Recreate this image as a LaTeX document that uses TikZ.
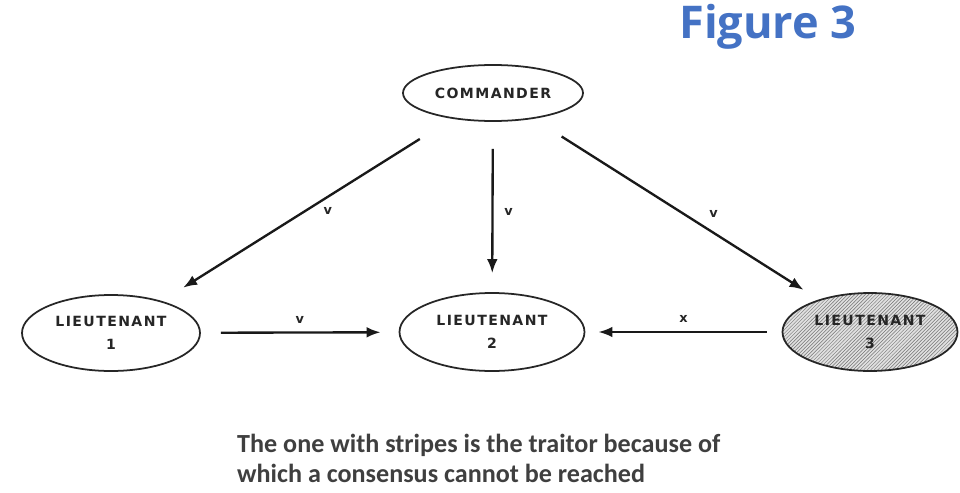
\documentclass[tikz,border=0pt]{standalone}
\usepackage{fontspec}
\usepackage{xcolor}
\usepackage{tikz}
\usetikzlibrary{positioning,shapes.geometric,arrows.meta,patterns}
\newfontfamily\boxfont[LetterSpace=10]{DejaVu Sans}
\newfontfamily\capfont{Carlito}
\newfontfamily\headfont{Open Sans}
\definecolor{headblue}{HTML}{4472C4}
\definecolor{capgray}{HTML}{3F3F3F}
\tikzset{
  officer/.style   = {ellipse, draw=black!85, line width=1.5pt, fill=white, inner sep=0pt, align=center,
                      font=\boxfont\bfseries\fontsize{12}{19}\selectfont, text=black!85},
  traitor/.style   = {officer, preaction={fill=black!12}, pattern=north east lines, pattern color=black!55},
  order/.style     = {-{Latex[length=4.2mm,width=3.2mm]}, draw=black!90, line width=2pt},
  msg/.style       = {font=\boxfont\bfseries\fontsize{11}{11}\selectfont, text=black!85},
  caption/.style   = {font=\capfont\bfseries\fontsize{22.3}{26}\selectfont, text=capgray, anchor=base west, inner sep=0pt},
  heading/.style   = {font=\headfont\bfseries\fontsize{38.5}{42}\selectfont, text=headblue, anchor=base west, inner sep=0pt},
}
\begin{document}
\begin{tikzpicture}[x=0.3mm,y=-0.3mm]
  \useasboundingbox (0,0) rectangle (960,492);

  % title
  \node[heading] (fig) at (679,39) {Figure 3};

  % generals
  \node[officer, minimum width=54mm, minimum height=16.8mm] (cmd) at (493,93) {COMMANDER};
  \node[officer, minimum width=53.4mm, minimum height=22.8mm] (lt1) at (111,333) {LIEUTENANT\\1};
  \node[officer, minimum width=55.5mm, minimum height=23.4mm] (lt2) at (492,332) {LIEUTENANT\\2};
  \node[traitor, minimum width=52.5mm, minimum height=23.4mm] (lt3) at (870,332) {LIEUTENANT\\3};

  % orders from the commander
  \draw[order, shorten <=11.4mm, shorten >=7.5mm] (cmd) -- node[msg, pos=0.46, below right] {v} (lt1);
  \draw[order, shorten <=8.1mm, shorten >=5.7mm] (cmd) -- node[msg, pos=0.53, right=2mm] {v} (lt2);
  \draw[order, shorten <=9.9mm, shorten >=5.4mm] (cmd) -- node[msg, pos=0.59, above right=1mm] {v} (lt3);

  % relayed messages
  \draw[order, shorten <=6mm, shorten >=5.4mm] (lt1) -- node[msg, above=1.2mm] {v} (lt2);
  \draw[order, shorten <=4.5mm, shorten >=3.9mm] (lt3) -- node[msg, above=1.2mm] {x} (lt2);

  % note
  \node[caption] (note1) at (237,452) {The one with stripes is the traitor because of};
  \node[caption] (note2) at (237,482) {which a consensus cannot be reached};
\end{tikzpicture}
\end{document}
